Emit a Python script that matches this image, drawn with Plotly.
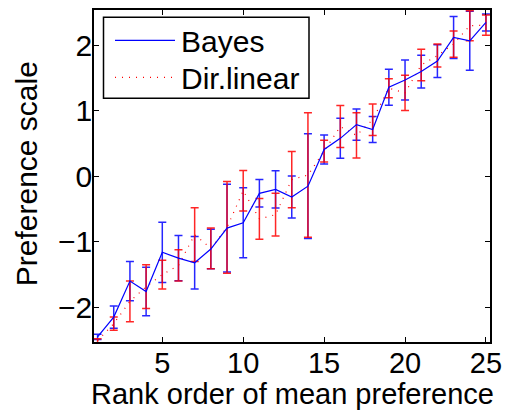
import plotly.graph_objects as go

rank = list(range(1, 26))
bayes_mean = [-2.45, -2.15, -1.60, -1.76, -1.16, -1.25, -1.32, -1.11, -0.79, -0.71,
              -0.26, -0.20, -0.315, -0.15, 0.41, 0.58, 0.79, 0.715, 1.36, 1.47,
              1.60, 1.76, 2.12, 2.07, 2.35]
bayes_err = [0.04, 0.17, 0.30, 0.37, 0.46, 0.345, 0.40, 0.30, 0.67, 0.535,
             0.21, 0.285, 0.32, 0.80, 0.22, 0.305, 0.24, 0.20, 0.275, 0.305,
             0.25, 0.25, 0.32, 0.45, 0.13]
dir_mean = [-2.51, -2.25, -1.91, -1.685, -1.50, -1.36, -0.89, -1.10, -0.78, -0.22,
            -0.65, -0.585, -0.05, 0.02, 0.385, 0.76, 0.625, 0.865, 1.345, 1.275,
            1.70, 1.845, 2.02, 2.30, 2.31]
dir_err = [0.03, 0.10, 0.31, 0.335, 0.22, 0.24, 0.41, 0.31, 0.70, 0.31,
           0.31, 0.325, 0.43, 0.95, 0.165, 0.32, 0.345, 0.24, 0.145, 0.27,
           0.24, 0.175, 0.20, 0.23, 0.155]
x_ticks = [5, 10, 15, 20, 25]
y_ticks = [-2, -1, 0, 1, 2]
legend_names = ["Bayes", "Dir.linear"]

BLUE = "rgb(0,0,255)"
RED = "rgb(255,0,0)"
FONT = "Liberation Sans, Arial, Helvetica, sans-serif"
FS = 30

fig = go.Figure()
# Bayes error bars
fig.add_trace(go.Scatter(
    x=rank, y=bayes_mean, mode="markers", marker=dict(size=1, opacity=0),
    error_y=dict(type="data", array=bayes_err, visible=True, color="rgba(0,0,255,0.85)",
                 thickness=1.5, width=4),
    showlegend=False, hoverinfo="skip"))
# Dir.linear dotted line with error bars
fig.add_trace(go.Scatter(
    x=rank, y=dir_mean, mode="lines", name=legend_names[1],
    line=dict(color=RED, width=1.2, dash="1px,6px"),
    error_y=dict(type="data", array=dir_err, visible=True, color="rgba(255,0,0,0.85)",
                 thickness=1.5, width=4),
    showlegend=False))
# Bayes line on top
fig.add_trace(go.Scatter(
    x=rank, y=bayes_mean, mode="lines", name=legend_names[0],
    line=dict(color=BLUE, width=1.2), showlegend=False))

# plot area pixel geometry (for legend / titles placement)
L, R, T, B = 94, 490, 9.5, 342
W, H = R - L, B - T
def px(xp):
    return (xp - L) / W
def py(yp):
    return (B - yp) / H

shapes = [
    dict(type="rect", xref="paper", yref="paper", x0=px(103.5), x1=px(309), y0=py(98), y1=py(16.7),
         line=dict(color="black", width=1.5), fillcolor="white", layer="above"),
    dict(type="line", xref="paper", yref="paper", x0=px(115), x1=px(175), y0=py(40), y1=py(40),
         line=dict(color=BLUE, width=1.2), layer="above"),
    dict(type="line", xref="paper", yref="paper", x0=px(115), x1=px(175), y0=py(77), y1=py(77),
         line=dict(color=RED, width=1.2, dash="1px,6px"), layer="above"),
]
annotations = [
    dict(text=legend_names[0], xref="paper", yref="paper", x=px(179), y=py(41),
         xanchor="left", yanchor="middle", showarrow=False, font=dict(size=FS, color="black", family=FONT)),
    dict(text=legend_names[1], xref="paper", yref="paper", x=px(179), y=py(78),
         xanchor="left", yanchor="middle", showarrow=False, font=dict(size=FS, color="black", family=FONT)),
    dict(text="Rank order of mean preference", xref="paper", yref="paper", x=px(292), y=py(394),
         xanchor="center", yanchor="middle", showarrow=False, font=dict(size=29, color="black", family=FONT)),
    dict(text="Preference scale", xref="paper", yref="paper", x=px(26), y=py(174), textangle=-90,
         xanchor="center", yanchor="middle", showarrow=False, font=dict(size=FS, color="black", family=FONT)),
]

fig.update_layout(
    width=513, height=413,
    margin=dict(l=L, r=513 - R, t=T, b=413 - B),
    paper_bgcolor="white", plot_bgcolor="white",
    font=dict(family=FONT, size=FS, color="black"),
    shapes=shapes, annotations=annotations, showlegend=False,
)
fig.update_xaxes(range=[0.78, 25.25], tickvals=x_ticks, ticks="inside", ticklen=5, tickwidth=1,
                 tickcolor="black", showline=True, linecolor="black", linewidth=1.5, mirror="ticks",
                 showgrid=False, zeroline=False, tickfont=dict(size=29), ticklabelstandoff=-6)
fig.update_yaxes(range=[-2.53, 2.54], tickvals=y_ticks, ticks="inside", ticklen=5, tickwidth=1,
                 tickcolor="black", showline=True, linecolor="black", linewidth=1.5, mirror="ticks",
                 showgrid=False, zeroline=False, tickfont=dict(size=FS), ticklabelstandoff=-6)

fig.write_html("out.html", config={"displayModeBar": False},
               post_script="document.body.style.margin='0';document.body.style.overflow='hidden';")
